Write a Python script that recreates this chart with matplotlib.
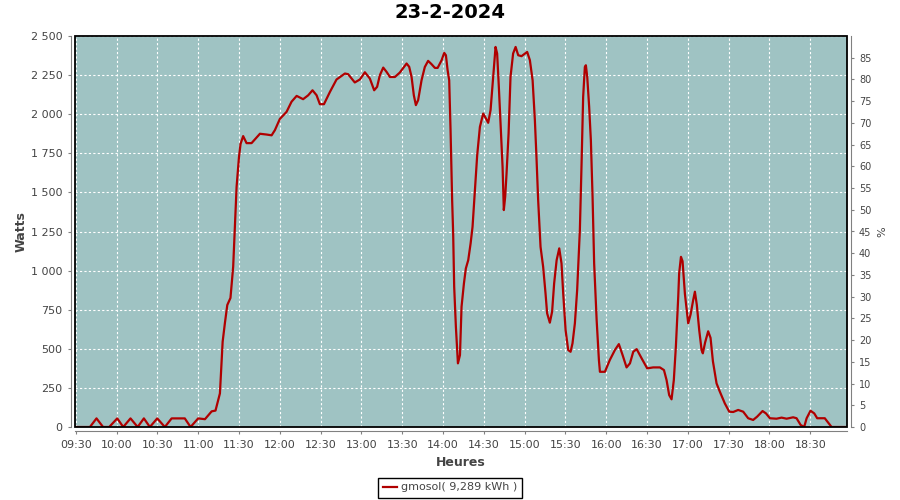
import matplotlib
matplotlib.use("Agg")
import matplotlib.pyplot as plt
import matplotlib.dates as mdates
import matplotlib.ticker as mticker
from matplotlib.patches import Rectangle
import pandas as pd

day = "2024-02-23"
title = "23-2-2024"
series_name = "gmosol( 9,289 kWh )"

times = [
    "09:30:00", "09:40:20", "09:45:10", "09:50:00", "09:54:30", "10:00:25", "10:04:50", "10:10:10",
    "10:15:25", "10:20:00", "10:24:25", "10:29:50", "10:35:25", "10:40:25", "10:50:05", "10:54:20",
    "10:59:55", "11:04:55", "11:09:50", "11:12:40", "11:15:55", "11:17:55", "11:19:35", "11:21:20",
    "11:23:40", "11:25:40", "11:26:55", "11:28:10", "11:29:55", "11:31:05", "11:33:00", "11:35:30",
    "11:39:10", "11:45:20", "11:50:10", "11:53:55", "11:56:20", "12:00:00", "12:04:55", "12:08:35",
    "12:12:20", "12:17:05", "12:20:50", "12:24:00", "12:27:00", "12:29:25", "12:32:25", "12:36:50",
    "12:41:40", "12:47:50", "12:50:10", "12:55:05", "12:58:50", "13:02:30", "13:06:10", "13:09:20",
    "13:11:30", "13:13:30", "13:16:00", "13:18:30", "13:20:55", "13:24:35", "13:28:10", "13:33:10",
    "13:35:05", "13:36:50", "13:38:30", "13:40:00", "13:41:40", "13:44:10", "13:46:35", "13:49:00",
    "13:51:30", "13:54:00", "13:56:00", "13:58:55", "14:00:50", "14:02:05", "14:03:20", "14:04:30",
    "14:05:30", "14:06:40", "14:07:25", "14:08:10", "14:09:25", "14:10:55", "14:12:25", "14:13:35",
    "14:15:20", "14:16:45", "14:18:30", "14:20:15", "14:21:40", "14:23:25", "14:25:05", "14:27:05",
    "14:29:30", "14:31:30", "14:33:10", "14:34:55", "14:36:50", "14:38:35", "14:39:45", "14:41:00",
    "14:42:15", "14:43:45", "14:44:40", "14:45:40", "14:46:40", "14:48:10", "14:49:35", "14:51:30",
    "14:53:20", "14:55:15", "14:57:40", "15:01:50", "15:03:50", "15:05:50", "15:07:30", "15:08:40",
    "15:09:55", "15:11:40", "15:13:35", "15:15:20", "15:16:30", "15:18:30", "15:20:10", "15:21:40",
    "15:23:30", "15:25:25", "15:27:05", "15:28:20", "15:30:05", "15:32:00", "15:33:45", "15:35:10",
    "15:36:55", "15:38:35", "15:40:35", "15:41:50", "15:43:00", "15:44:15", "15:45:00", "15:46:00",
    "15:47:25", "15:48:40", "15:49:55", "15:51:05", "15:52:55", "15:54:35", "15:55:20", "15:59:00",
    "16:02:35", "16:06:20", "16:09:15", "16:12:00", "16:14:55", "16:17:25", "16:19:50", "16:22:20",
    "16:26:00", "16:30:05", "16:34:30", "16:39:25", "16:42:25", "16:44:20", "16:46:15", "16:48:00",
    "16:49:40", "16:51:10", "16:52:55", "16:53:35", "16:54:55", "16:56:05", "16:57:50", "17:00:15",
    "17:02:00", "17:03:55", "17:05:10", "17:06:35", "17:08:20", "17:10:05", "17:11:00", "17:12:40",
    "17:14:55", "17:16:40", "17:18:25", "17:21:05", "17:23:30", "17:27:10", "17:30:25", "17:33:20",
    "17:37:00", "17:40:40", "17:44:20", "17:48:00", "17:50:55", "17:54:55", "17:57:25", "18:00:20",
    "18:05:10", "18:08:55", "18:12:35", "18:17:25", "18:19:55", "18:22:55", "18:25:30", "18:27:20",
    "18:30:10", "18:32:55", "18:35:05", "18:40:40", "18:43:10", "18:45:40", "18:56:40",
]

watts = [
    0, 0, 55, 0, 0, 55, 0, 55,
    0, 55, 0, 55, 0, 55, 55, 0,
    55, 50, 100, 105, 215, 545, 665, 780,
    825, 1025, 1280, 1535, 1725, 1810, 1860, 1815,
    1815, 1875, 1870, 1865, 1898, 1970, 2015, 2080,
    2117, 2096, 2121, 2153, 2121, 2064, 2064, 2143,
    2222, 2260, 2256, 2203, 2222, 2268, 2228, 2153,
    2175, 2249, 2298, 2270, 2238, 2238, 2266, 2324,
    2303, 2238, 2121, 2058, 2090, 2217, 2302, 2341,
    2320, 2296, 2296, 2345, 2392, 2377, 2281, 2217,
    1898, 1450, 1238, 897, 641, 407, 460, 769,
    918, 1014, 1067, 1174, 1280, 1514, 1738, 1919,
    2004, 1973, 1945, 2026, 2238, 2430, 2388, 2175,
    1940, 1663, 1387, 1472, 1621, 1877, 2238, 2388,
    2430, 2377, 2371, 2398, 2345, 2217, 1962, 1727,
    1450, 1152, 1024, 854, 727, 667, 737, 918,
    1067, 1142, 1046, 854, 620, 492, 481, 535,
    663, 875, 1259, 1685, 2111, 2302, 2313, 2238,
    2047, 1834, 1472, 1046, 684, 428, 353, 353,
    428, 492, 530, 460, 381, 407, 481, 498,
    439, 375, 381, 381, 364, 300, 204, 177,
    300, 513, 833, 982, 1088, 1060, 850, 663,
    720, 812, 865, 780, 620, 492, 471, 540,
    612, 570, 420, 279, 226, 151, 98, 96,
    109, 98, 56, 45, 66, 102, 87, 56,
    53, 60, 53, 62, 56, 13, 0, 56,
    104, 87, 56, 56, 28, 0, 0,
]

x_start = "09:29:20"
x_end = "18:56:40"
watt_ticks = list(range(0, 2501, 250))
pct_ticks = list(range(0, 86, 5))

t = pd.to_datetime([day + " " + s for s in times])

fig = plt.figure(figsize=(9, 5), dpi=100)
ax = fig.add_axes([0.0833, 0.146, 0.8573, 0.782])
ax.set_facecolor("#9fc3c3")

ax.plot(t, watts, color="#b00000", lw=1.6, zorder=3)

ax.set_xlim(pd.Timestamp(day + " " + x_start), pd.Timestamp(day + " " + x_end))
ax.set_ylim(0, 2500)
ax.set_yticks(watt_ticks)
ax.yaxis.set_major_formatter(mticker.FuncFormatter(lambda v, p: f"{v:,.0f}".replace(",", " ")))
ax.xaxis.set_major_locator(mdates.MinuteLocator(byminute=[0, 30]))
ax.xaxis.set_major_formatter(mdates.DateFormatter("%H:%M"))

ax.grid(True, color="white", linestyle=(0, (2, 2)), lw=0.8)
ax.set_axisbelow(True)

gray = "#808080"
for side in ["top", "right"]:
    ax.spines[side].set_visible(False)
for side in ["left", "bottom"]:
    ax.spines[side].set_position(("outward", 3))
    ax.spines[side].set_color(gray)
ax.tick_params(colors=gray, labelcolor="#444444", labelsize=8, length=2.5, width=0.8)

ax.add_patch(Rectangle((0, 0), 1, 1, transform=ax.transAxes, fill=False,
                       ec="black", lw=1.3, zorder=5, clip_on=False))

ax.set_ylabel("Watts", fontsize=9, fontweight="bold", color="#444444", labelpad=2)
ax.set_xlabel("Heures", fontsize=9, fontweight="bold", color="#444444", labelpad=5)
fig.text(0.5, 1 - 13 / 500, title, fontsize=14, fontweight="bold", ha="center", va="center")

ax2 = ax.twinx()
ax2.set_ylim(0, 90)
ax2.set_yticks(pct_ticks)
for side in ["top", "left", "bottom"]:
    ax2.spines[side].set_visible(False)
ax2.spines["right"].set_position(("outward", 3))
ax2.spines["right"].set_color(gray)
ax2.tick_params(colors=gray, labelcolor="#444444", labelsize=7, length=2.5, width=0.8)
ax2.set_ylabel("%", fontsize=8, color="#444444", labelpad=4)

handle = plt.Line2D([], [], color="#b00000", lw=1.6)
leg = fig.legend([handle], [series_name], loc="center", bbox_to_anchor=(0.5, 0.025),
                 fontsize=8, frameon=True, fancybox=False, framealpha=1,
                 edgecolor="black", handlelength=1.3, handletextpad=0.35,
                 borderpad=0.45, borderaxespad=0)
leg.get_frame().set_linewidth(1.0)
for txt in leg.get_texts():
    txt.set_color("#444444")

fig.savefig("out.png", dpi=100)
